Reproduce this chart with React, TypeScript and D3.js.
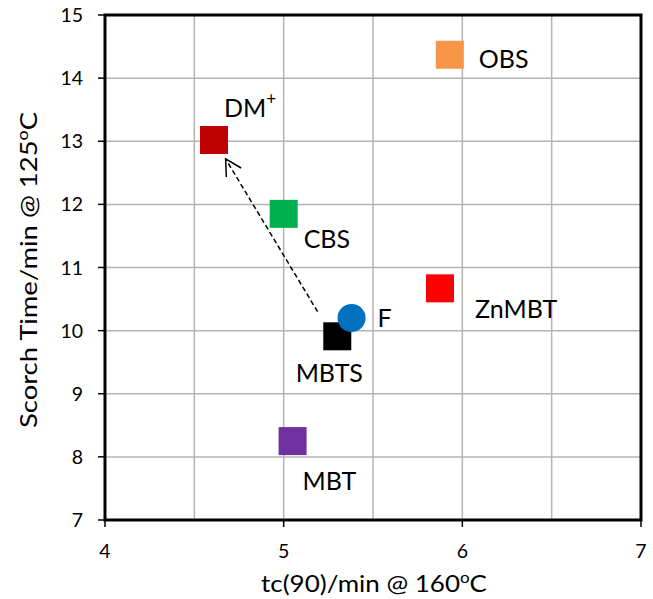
import React from "react";
import * as d3 from "d3";

const names = ["DM", "CBS", "MBTS", "F", "OBS", "ZnMBT", "MBT"];
const tc90 = [4.61, 5.0, 5.3, 5.38, 5.93, 5.875, 5.05];
const scorch = [13.02, 11.85, 9.91, 10.2, 14.37, 10.67, 8.25];
const colors = ["#C00000", "#00B050", "#000000", "#0070C0", "#F79646", "#FF0000", "#7030A0"];
const shapes = ["square", "square", "square", "circle", "square", "square", "square"];
const labelDx = [10, 20, -8, 26, 29, 35, 10];
const labelDy = [-23, 34, 46, 9, 13, 30, 49];
const labelAnchor = ["start", "start", "middle", "start", "start", "start", "start"];

const xTicks = [4, 5, 6, 7];
const xGrid = [4.5, 5, 5.5, 6, 6.5];
const yTicks = [7, 8, 9, 10, 11, 12, 13, 14, 15];
const yGrid = [8, 9, 10, 11, 12, 13, 14];

const arrowFrom = [5.19, 10.3];
const arrowTo = [4.675, 12.72];

const W = 653;
const H = 599;
const FONT = "Lato, 'Open Sans', sans-serif";

export default function App() {
  const x = d3.scaleLinear().domain([4, 7]).range([105, 641]);
  const y = d3.scaleLinear().domain([7, 15]).range([520, 15]);
  const sq = 28;

  const ax1 = x(arrowFrom[0]);
  const ay1 = y(arrowFrom[1]);
  const ax2 = x(arrowTo[0]);
  const ay2 = y(arrowTo[1]);
  const ang = Math.atan2(ay2 - ay1, ax2 - ax1);
  const hl = 18;
  const ha = 0.5;
  const h1 = [ax2 - hl * Math.cos(ang - ha), ay2 - hl * Math.sin(ang - ha)];
  const h2 = [ax2 - hl * Math.cos(ang + ha), ay2 - hl * Math.sin(ang + ha)];

  return (
    <div style={{ position: "absolute", left: 0, top: 0 }}>
      <svg width={W} height={H} style={{ display: "block", background: "#fff" }}>
        <rect x={0} y={0} width={W} height={H} fill="#fff" />
        {xGrid.map((v) => (
          <line key={"xg" + v} x1={x(v)} x2={x(v)} y1={y(15)} y2={y(7)} stroke="#b4b4b4" strokeWidth={1.5} />
        ))}
        {yGrid.map((v) => (
          <line key={"yg" + v} x1={x(4)} x2={x(7)} y1={y(v)} y2={y(v)} stroke="#b4b4b4" strokeWidth={1.5} />
        ))}
        {yTicks.map((v) => (
          <g key={"yt" + v}>
            <line x1={x(4) - 7} x2={x(4)} y1={y(v)} y2={y(v)} stroke="#000" strokeWidth={1.5} />
            <text x={83} y={y(v) + 7} textAnchor="end" fontFamily={FONT} fontSize={19.5} fill="#000">
              {v}
            </text>
          </g>
        ))}
        {xTicks.map((v) => (
          <g key={"xt" + v}>
            <line x1={x(v)} x2={x(v)} y1={y(7)} y2={y(7) + 7} stroke="#000" strokeWidth={1.5} />
            <text x={x(v)} y={558} textAnchor="middle" fontFamily={FONT} fontSize={19.5} fill="#000">
              {v}
            </text>
          </g>
        ))}
        <rect x={x(4)} y={y(15)} width={x(7) - x(4)} height={y(7) - y(15)} fill="none" stroke="#000" strokeWidth={3} />

        <line x1={ax1} y1={ay1} x2={ax2} y2={ay2} stroke="#000" strokeWidth={1.5} strokeDasharray="5,3" />
        <polyline points={`${h1[0]},${h1[1]} ${ax2},${ay2} ${h2[0]},${h2[1]}`} fill="none" stroke="#000" strokeWidth={1.5} />

        {names.map((n, i) =>
          shapes[i] === "square" ? (
            <rect key={"m" + n} x={x(tc90[i]) - sq / 2} y={y(scorch[i]) - sq / 2} width={sq} height={sq} fill={colors[i]} />
          ) : null
        )}
        {names.map((n, i) =>
          shapes[i] === "circle" ? (
            <circle key={"c" + n} cx={x(tc90[i])} cy={y(scorch[i])} r={14} fill={colors[i]} />
          ) : null
        )}
        {names.map((n, i) => (
          <text
            key={"l" + n}
            x={x(tc90[i]) + labelDx[i]}
            y={y(scorch[i]) + labelDy[i]}
            textAnchor={labelAnchor[i]}
            fontFamily={FONT}
            fontSize={25}
            fill="#000"
          >
            {n}
            {n === "DM" ? (
              <tspan dy={-12} fontSize={17}>
                +
              </tspan>
            ) : null}
          </text>
        ))}

        <text x={374} y={592} textAnchor="middle" fontFamily={FONT} fontSize={23} fill="#000" textLength={226} lengthAdjust="spacingAndGlyphs">
          tc(90)/min @ 160
          <tspan dy={-9} fontSize={15}>o</tspan>
          <tspan dy={9}>C</tspan>
        </text>
        <text
          transform={`translate(37, 270) rotate(-90)`}
          textAnchor="middle"
          fontFamily={FONT}
          fontSize={23}
          fill="#000"
          textLength={316}
          lengthAdjust="spacingAndGlyphs"
        >
          Scorch Time/min @ 125
          <tspan dy={-9} fontSize={15}>o</tspan>
          <tspan dy={9}>C</tspan>
        </text>
      </svg>
    </div>
  );
}
